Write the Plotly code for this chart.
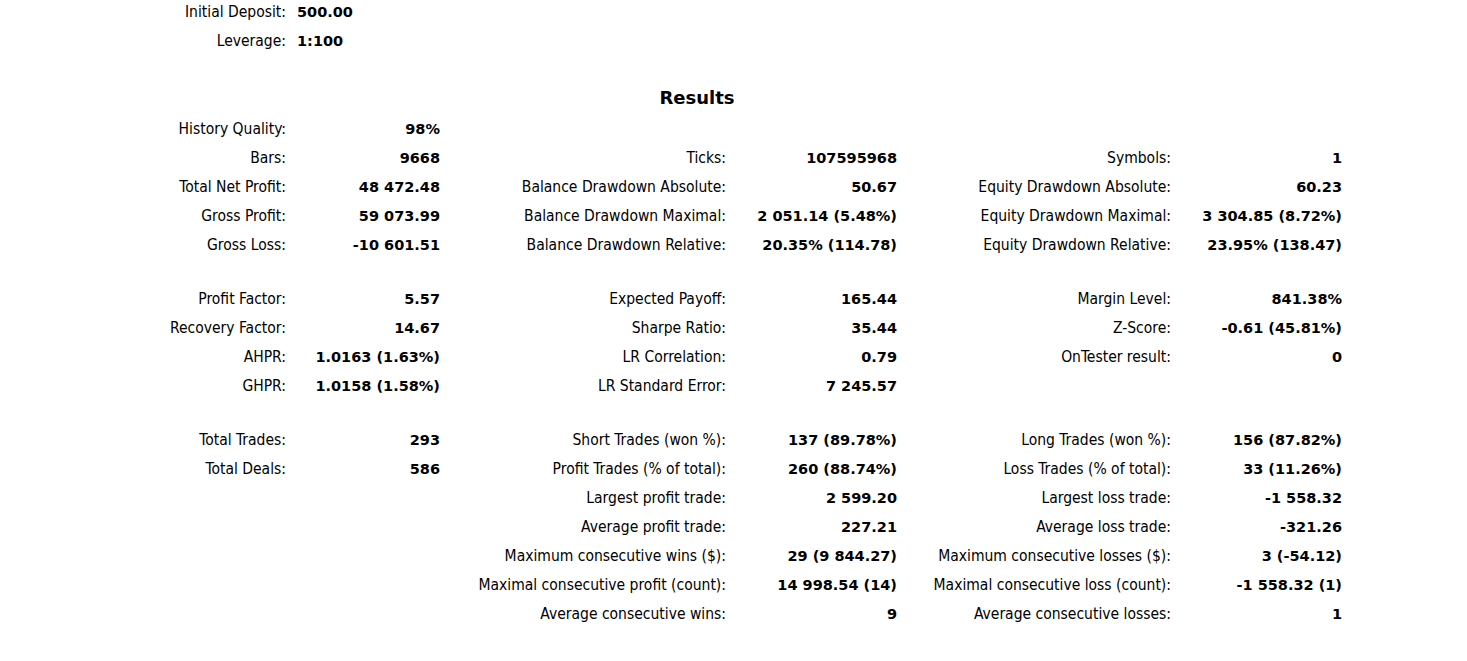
import plotly.graph_objects as go

# header block
summary_labels = ["Initial Deposit:", "Leverage:"]
summary_values = ["500.00", "1:100"]

title = "Results"

# three label/value column pairs, one entry per row ("" = empty cell / blank row)
col1_labels = ["History Quality:", "Bars:", "Total Net Profit:", "Gross Profit:", "Gross Loss:", "",
               "Profit Factor:", "Recovery Factor:", "AHPR:", "GHPR:", "",
               "Total Trades:", "Total Deals:", "", "", "", "", ""]
col1_values = ["98%", "9668", "48 472.48", "59 073.99", "-10 601.51", "",
               "5.57", "14.67", "1.0163 (1.63%)", "1.0158 (1.58%)", "",
               "293", "586", "", "", "", "", ""]

col2_labels = ["", "Ticks:", "Balance Drawdown Absolute:", "Balance Drawdown Maximal:", "Balance Drawdown Relative:", "",
               "Expected Payoff:", "Sharpe Ratio:", "LR Correlation:", "LR Standard Error:", "",
               "Short Trades (won %):", "Profit Trades (% of total):", "Largest profit trade:",
               "Average profit trade:", "Maximum consecutive wins ($):",
               "Maximal consecutive profit (count):", "Average consecutive wins:"]
col2_values = ["", "107595968", "50.67", "2 051.14 (5.48%)", "20.35% (114.78)", "",
               "165.44", "35.44", "0.79", "7 245.57", "",
               "137 (89.78%)", "260 (88.74%)", "2 599.20", "227.21", "29 (9 844.27)",
               "14 998.54 (14)", "9"]

col3_labels = ["", "Symbols:", "Equity Drawdown Absolute:", "Equity Drawdown Maximal:", "Equity Drawdown Relative:", "",
               "Margin Level:", "Z-Score:", "OnTester result:", "", "",
               "Long Trades (won %):", "Loss Trades (% of total):", "Largest loss trade:",
               "Average loss trade:", "Maximum consecutive losses ($):",
               "Maximal consecutive loss (count):", "Average consecutive losses:"]
col3_values = ["", "1", "60.23", "3 304.85 (8.72%)", "23.95% (138.47)", "",
               "841.38%", "-0.61 (45.81%)", "0", "", "",
               "156 (87.82%)", "33 (11.26%)", "-1 558.32", "-321.26", "3 (-54.12)",
               "-1 558.32 (1)", "1"]

W, H = 1467, 661
ROW_H = 29
GAP_H = 25
TOP = 128
NUDGE = 2  # text baseline vs. point centre

# row positions in page pixels, blank rows are shorter
row_y = []
y = TOP
for i in range(len(col1_labels)):
    blank = not (col1_labels[i] or col2_labels[i] or col3_labels[i])
    row_y.append(y + NUDGE)
    y += GAP_H if blank else ROW_H

LABEL_FONT = dict(family="DejaVu Sans Condensed, Tahoma, sans-serif", size=15.5, color="#000000")
VALUE_FONT = dict(family="DejaVu Sans, Verdana, sans-serif", size=14.5, color="#000000", weight="bold")

label_x = [286, 726, 1171]
value_x = [440, 897, 1342]

fig = go.Figure()


def add_col(texts, ys, x, pos, font):
    keep = [(t, yy) for t, yy in zip(texts, ys) if t]
    fig.add_trace(go.Scatter(
        x=[x] * len(keep), y=[yy for _, yy in keep], text=[t for t, _ in keep],
        mode="text", textposition=pos, textfont=font, cliponaxis=False,
        hoverinfo="skip", showlegend=False))


add_col(summary_labels, [11 + NUDGE, 40 + NUDGE], 286, "middle left", LABEL_FONT)
add_col(summary_values, [11 + NUDGE, 40 + NUDGE], 297, "middle right", VALUE_FONT)

for labs, vals, lx, vx in zip([col1_labels, col2_labels, col3_labels],
                              [col1_values, col2_values, col3_values], label_x, value_x):
    add_col(labs, row_y, lx, "middle left", LABEL_FONT)
    add_col(vals, row_y, vx, "middle left", VALUE_FONT)

fig.add_trace(go.Scatter(
    x=[697], y=[97 + NUDGE], text=[title], mode="text", textposition="middle center",
    textfont=dict(family="DejaVu Sans, Verdana, sans-serif", size=18, color="#000000", weight="bold"),
    cliponaxis=False, hoverinfo="skip", showlegend=False))

fig.update_layout(
    width=W, height=H, margin=dict(l=0, r=0, t=0, b=0),
    paper_bgcolor="white", plot_bgcolor="white",
    xaxis=dict(range=[0, W], visible=False, fixedrange=True),
    yaxis=dict(range=[H, 0], visible=False, fixedrange=True),
)

# drop the browser's default 8px body margin so the figure sits at the page corner
fig.write_html("out.html", config={"displayModeBar": False},
               post_script="document.body.style.margin='0';")
